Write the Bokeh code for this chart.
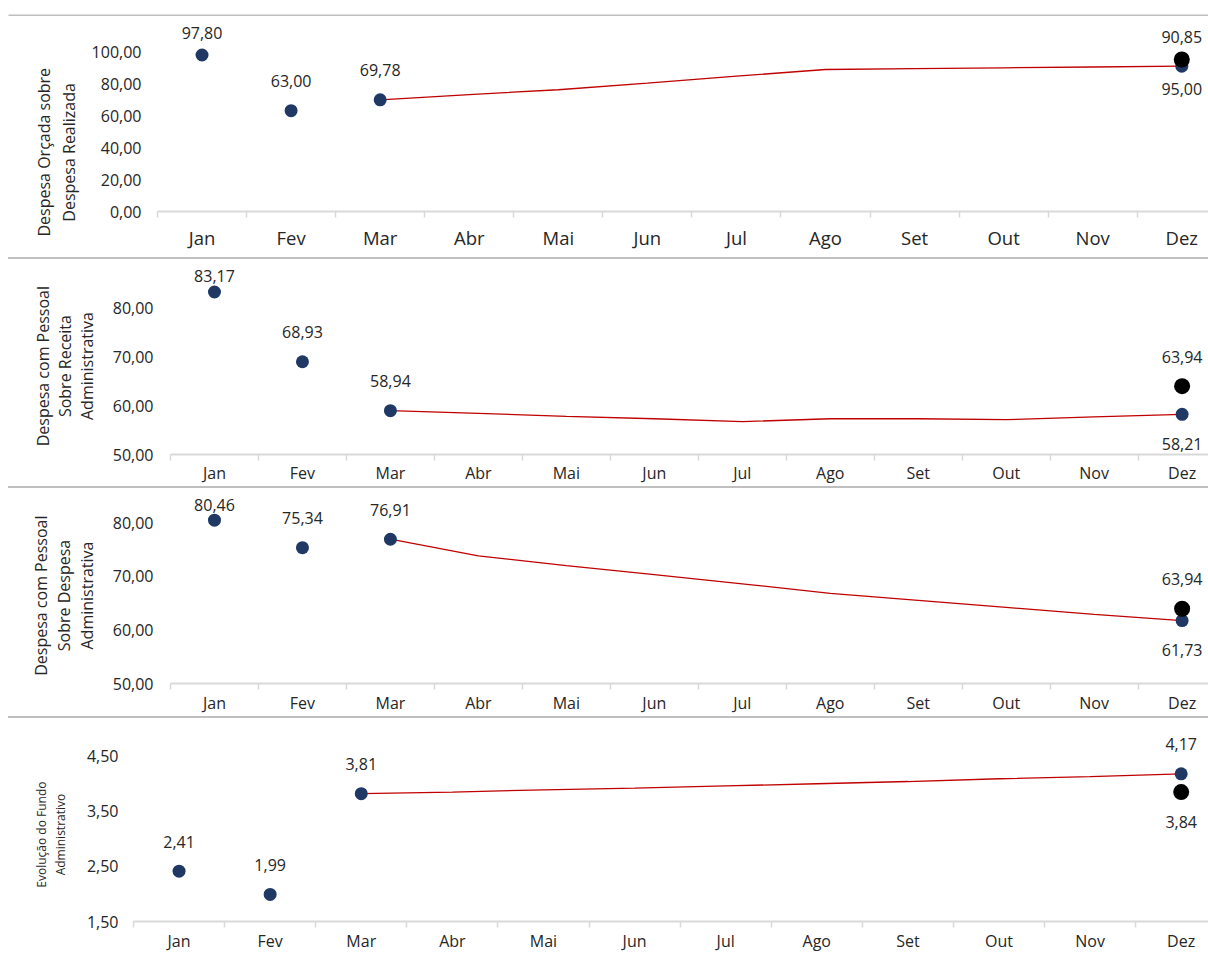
import math
from bokeh.plotting import figure
from bokeh.models import Range1d, FixedTicker, ColumnDataSource, Title, LinearAxis, Div
from bokeh.core.properties import value
from bokeh.embed import file_html
from bokeh.resources import INLINE

# ---------------- data ----------------
months = ["Jan", "Fev", "Mar", "Abr", "Mai", "Jun", "Jul", "Ago", "Set", "Out", "Nov", "Dez"]
actual_months = ["Jan", "Fev", "Mar", "Dez"]
trend_months = ["Mar", "Abr", "Mai", "Jun", "Jul", "Ago", "Set", "Out", "Nov", "Dez"]
target_month = "Dez"

p1_title = ["Despesa Orçada sobre", "Despesa Realizada"]
p1_actual = [97.80, 63.00, 69.78, 90.85]
p1_target = 95.00
p1_trend = [69.78, 73.1, 76.1, 80.2, 84.6, 88.75, 89.3, 89.8, 90.3, 90.85]
p1_yticks = [0, 20, 40, 60, 80, 100]
p1_ytick_labels = ["0,00", "20,00", "40,00", "60,00", "80,00", "100,00"]

p2_title = ["Despesa com Pessoal", "Sobre Receita", "Administrativa"]
p2_actual = [83.17, 68.93, 58.94, 58.21]
p2_target = 63.94
p2_trend = [58.94, 58.4, 57.8, 57.3, 56.7, 57.3, 57.3, 57.1, 57.7, 58.21]
p2_yticks = [50, 60, 70, 80]
p2_ytick_labels = ["50,00", "60,00", "70,00", "80,00"]

p3_title = ["Despesa com Pessoal", "Sobre Despesa", "Administrativa"]
p3_actual = [80.46, 75.34, 76.91, 61.73]
p3_target = 63.94
p3_trend = [76.91, 73.8, 72.0, 70.3, 68.6, 66.8, 65.5, 64.2, 62.9, 61.73]
p3_yticks = [50, 60, 70, 80]
p3_ytick_labels = ["50,00", "60,00", "70,00", "80,00"]

p4_title = ["Evolução do Fundo", "Administrativo"]
p4_actual = [2.41, 1.99, 3.81, 4.17]
p4_target = 3.84
p4_trend = [3.81, 3.84, 3.88, 3.91, 3.95, 3.99, 4.03, 4.08, 4.12, 4.17]
p4_yticks = [1.5, 2.5, 3.5, 4.5]
p4_ytick_labels = ["1,50", "2,50", "3,50", "4,50"]

# whether the December "actual" label sits above its dot
dez_actual_label_above = [True, False, False, True]

# ---------------- style / layout ----------------
FONT = "Open Sans"
TXT = "#262626"
BLUE = "#1f3864"
RED = "#c00000"
SEP = "#bfbfbf"
AXIS = "#d9d9d9"
W = 1208
X_END = 12.3
LABEL_FIX = -6  # baseline correction of bokeh text glyph, px

# Open Sans advance widths (units per em = 2048), used to lay out the rotated titles
ADV = {" ": 532, ",": 532, "A": 1296, "D": 1479, "E": 1139, "F": 1057, "O": 1599, "P": 1255,
       "R": 1290, "S": 1124, "a": 1139, "b": 1255, "c": 975, "ç": 975, "d": 1255, "e": 1149,
       "i": 518, "l": 518, "m": 1905, "n": 1257, "o": 1237, "p": 1255, "r": 836, "s": 977,
       "t": 723, "u": 1257, "v": 1026, "z": 977, "ã": 1139}


def text_len(s, fs):
    return sum(ADV.get(c, 1171) for c in s) / 2048 * fs


geoms = [
    dict(fig_top=16, height=241, bl=157, bt=3, bb=46, y0=0, y1=120, xfs="18.5px", xso=7, yso=16,
         tfs=16, tcx=[46.0, 70.3], ty=151.7),
    dict(fig_top=259, height=227, bl=170, bt=2, bb=31, y0=50, y1=89.4, xfs="16px", xso=1, yso=17,
         tfs=16, tcx=[42.8, 65.3, 87.3], ty=366.5),
    dict(fig_top=488, height=228, bl=170, bt=2, bb=32, y0=50, y1=86.0, xfs="16px", xso=2, yso=17,
         tfs=16, tcx=[42.7, 66.0, 87.7], ty=596),
    dict(fig_top=718, height=236, bl=133, bt=2, bb=32, y0=1.5, y1=5.133, xfs="16px", xso=2, yso=15,
         tfs=12, tcx=[42.7, 61.1], ty=835),
]


def fmt(v):
    return f"{v:.2f}".replace(".", ",")


def mx(m):
    return months.index(m) + 1


def top_separator():
    s = figure(width=W, height=16, toolbar_location=None, output_backend="svg",
               x_axis_type=None, y_axis_type=None,
               x_range=Range1d(0, 1), y_range=Range1d(0, 1),
               min_border_left=8, min_border_right=0, min_border_top=14, min_border_bottom=0)
    s.grid.visible = False
    s.outline_line_color = None
    s.background_fill_color = SEP
    s.border_fill_color = "white"
    return s


def separator():
    return Div(text="", width=W - 8, height=2, margin=(0, 0, 0, 8),
               styles={"background-color": SEP})


def panel(g, title, actual, target, trend, yticks, ytick_labels, dez_above):
    p = figure(width=W, height=g["height"], toolbar_location=None, output_backend="svg",
               x_range=Range1d(0.5, X_END), y_range=Range1d(g["y0"], g["y1"]),
               min_border_left=g["bl"], min_border_right=0,
               min_border_top=g["bt"], min_border_bottom=g["bb"])
    p.outline_line_color = None
    p.grid.visible = False
    p.background_fill_color = "white"
    p.border_fill_color = "white"

    # x axis
    xa = p.xaxis[0]
    xa.ticker = FixedTicker(ticks=[mx(m) for m in months],
                            minor_ticks=[mx(m) - 0.5 for m in months])
    xa.major_label_overrides = {mx(m): m for m in months}
    xa.axis_line_color = AXIS
    xa.axis_line_width = 2
    xa.major_tick_out = 0
    xa.major_tick_in = 0
    xa.minor_tick_out = 6
    xa.minor_tick_in = 0
    xa.minor_tick_line_color = AXIS
    xa.minor_tick_line_width = 1.5
    xa.major_label_text_font = FONT
    xa.major_label_text_font_size = g["xfs"]
    xa.major_label_text_color = TXT
    xa.major_label_standoff = g["xso"]

    # y axis
    ya = p.yaxis[0]
    ya.ticker = FixedTicker(ticks=yticks, minor_ticks=[])
    ya.major_label_overrides = {t: l for t, l in zip(yticks, ytick_labels)}
    ya.axis_line_color = None
    ya.major_tick_line_color = None
    ya.minor_tick_line_color = None
    ya.major_tick_out = 0
    ya.major_tick_in = 0
    ya.major_label_text_font = FONT
    ya.major_label_text_font_size = "16px"
    ya.major_label_text_color = TXT
    ya.major_label_standoff = g["yso"]

    # trend line, actual dots, target dot
    p.line([mx(m) for m in trend_months], trend, line_color=RED, line_width=1.3)
    p.scatter([mx(m) for m in actual_months], actual, size=13, fill_color=BLUE, line_color=None)
    p.scatter([mx(target_month)], [target], size=16, fill_color="black", line_color=None)

    # data labels (offsets in px, computed from the panel's scale)
    f_top = g["fig_top"] + g["bt"]
    f_bot = g["fig_top"] + g["height"] - g["bb"]
    sc = (f_bot - f_top) / (g["y1"] - g["y0"])
    min_base = g["fig_top"] + 22.5

    def px(v):
        return f_bot - (v - g["y0"]) * sc

    def off_above(v):
        b = max(px(v) - 23.5, min_base)
        return b - px(v) + LABEL_FIX

    off_below = 35.5 + LABEL_FIX

    xs, ys, tx, offs = [], [], [], []
    for m, v in zip(actual_months, actual):
        above = (m != target_month) or dez_above
        xs.append(mx(m)); ys.append(v); tx.append(fmt(v))
        offs.append(off_above(v) if above else off_below)
    xs.append(mx(target_month)); ys.append(target); tx.append(fmt(target))
    offs.append(off_below if dez_above else off_above(target))
    src = ColumnDataSource(dict(x=xs, y=ys, text=tx, yoff=offs))
    p.text(x="x", y="y", text="text", y_offset="yoff", source=src,
           text_align="center", text_baseline="alphabetic",
           text_font=value(FONT), text_font_size="16px", text_color=TXT)

    # rotated axis title: spacer axis, then one Title per line (inner to outer)
    fs = g["tfs"]
    h = 1.362 * fs
    tcx = g["tcx"]
    d = (tcx[-1] - tcx[0]) / (len(tcx) - 1)
    a_left = g["bl"] - g["yso"] - max(text_len(l, 16) for l in ytick_labels)
    sp_w = a_left - (tcx[-1] + d / 2) - 2
    spacer = LinearAxis(ticker=FixedTicker(ticks=[g["y0"]], minor_ticks=[]),
                        major_label_overrides={g["y0"]: ""},
                        axis_line_color=None, major_tick_line_color=None,
                        minor_tick_line_color=None,
                        major_tick_out=int(round(sp_w)), major_tick_in=0, minor_tick_out=0,
                        major_label_standoff=0, major_label_text_font_size="1px")
    p.add_layout(spacer, "left")
    for line in reversed(title):
        L = text_len(line, fs)
        p.add_layout(Title(text=line, align="left", vertical_align="middle",
                           offset=f_bot - (g["ty"] + L / 2), standoff=d - 2 - h,
                           text_font=FONT, text_font_size=f"{fs}px", text_font_style="normal",
                           text_color=TXT), "left")
    return p


panels = [
    panel(geoms[0], p1_title, p1_actual, p1_target, p1_trend, p1_yticks, p1_ytick_labels, dez_actual_label_above[0]),
    panel(geoms[1], p2_title, p2_actual, p2_target, p2_trend, p2_yticks, p2_ytick_labels, dez_actual_label_above[1]),
    panel(geoms[2], p3_title, p3_actual, p3_target, p3_trend, p3_yticks, p3_ytick_labels, dez_actual_label_above[2]),
    panel(geoms[3], p4_title, p4_actual, p4_target, p4_trend, p4_yticks, p4_ytick_labels, dez_actual_label_above[3]),
]

roots = [top_separator(), panels[0], separator(), panels[1],
         separator(), panels[2], separator(), panels[3]]

open("out.html", "w").write(file_html(roots, INLINE))
